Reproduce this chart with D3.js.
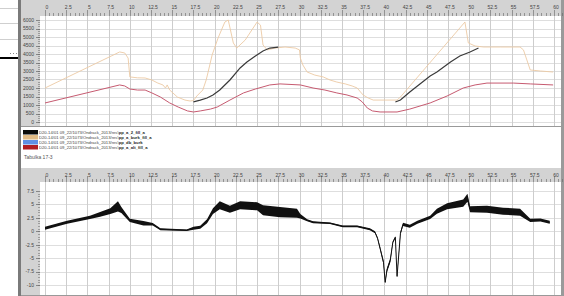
<!DOCTYPE html>
<html>
<head>
<meta charset="utf-8">
<script src="https://cdn.jsdelivr.net/npm/d3@7"></script>
<style>
  html, body { margin: 0; padding: 0; background: #fff; }
  svg { display: block; font-family: "Liberation Sans", "DejaVu Sans", sans-serif; }
</style>
</head>
<body>
<svg id="chart" width="564" height="296"></svg>
<script>
// ── data ──
const xTicks = d3.range(0, 60.1, 2.5);
const topYTicks = d3.range(0, 6001, 500);
const bottomYTicks = [7.5, 5, 2.5, 0, -2.5, -5, -7.5, -10];

// [time, value]
const tanSeries = [
    [0, 2000], [8.8, 4120], [9.4, 4060], [9.8, 3760], [10.0, 2650], [10.9, 2600], [11.8, 2590],
    [12.6, 2470], [13.3, 2290], [13.9, 2180], [14.2, 2000], [14.4, 2180], [14.7, 1880], [15.6, 1470],
    [16.5, 1290], [17.1, 1235], [17.5, 1260], [17.9, 1530], [18.6, 1880], [19.0, 2470], [19.2, 2880],
    [19.7, 3940], [20.4, 4940], [21.2, 5880], [21.6, 6000], [22.2, 4650], [22.6, 4350], [23.6, 4820],
    [25.0, 5880], [25.4, 5700], [25.7, 4530], [26.2, 4240], [27.1, 4350], [28.3, 4410], [29.5, 4350],
    [30.0, 4240], [30.1, 3760], [30.4, 3350], [30.9, 2940], [31.8, 2760], [32.8, 2650], [33.6, 2470],
    [34.4, 2350], [35.4, 2240], [36.2, 2120], [36.8, 2000], [37.2, 1760], [37.5, 1590], [38.1, 1410],
    [38.7, 1290], [40.1, 1290], [41.5, 1290], [41.9, 1470], [49.5, 5880], [49.9, 4650], [50.7, 4470],
    [51.7, 4410], [53.7, 4410], [56.0, 4410], [56.4, 4240], [56.8, 3650], [57.2, 3060], [58.4, 3000],
    [59.9, 2940]
];

const blackSeries = [
    [17.5, 1180], [18.3, 1290], [19.1, 1410], [19.8, 1590], [20.6, 1880], [21.8, 2470], [23.0, 3180],
    [23.8, 3530], [24.8, 3880], [25.7, 4180], [26.5, 4350], [27.5, 4410],
    [34, null],
    [41.3, 1180], [41.9, 1290], [43.0, 1760], [44.2, 2240], [45.4, 2710], [46.2, 2940], [47.8, 3530],
    [48.9, 3880], [50.1, 4120], [51.1, 4350]
];

const redSeries = [
    [0, 1120], [8.8, 2180], [9.4, 2120], [10.0, 1940], [10.9, 1880], [11.8, 1880], [12.6, 1710],
    [13.6, 1470], [14.7, 1120], [15.7, 880], [16.8, 650], [17.5, 590], [18.3, 650], [19.5, 760],
    [20.3, 880], [21.8, 1290], [23.4, 1710], [24.8, 1940], [26.5, 2180], [27.7, 2240], [30.1, 2180],
    [31.6, 2000], [33.0, 1880], [34.4, 1710], [35.6, 1590], [36.8, 1410], [37.4, 1180], [38.0, 820],
    [38.6, 650], [39.5, 590], [41.5, 590], [43.0, 760], [45.4, 1120], [47.4, 1530], [49.3, 2000],
    [50.7, 2180], [52.1, 2290], [55.2, 2290], [57.2, 2240], [59.9, 2180]
];

// lower chart: [time, low, high] envelope of the noisy signal
const signalSeries = [
    [0, 0.3, 0.85], [2.6, 1.4, 1.95], [5.3, 2.3, 2.9], [6.5, 2.7, 3.6], [7.7, 3.2, 4.3], [8.6, 3.7, 5.6],
    [9.0, 3.4, 4.5], [10.0, 1.75, 2.35], [11.6, 1.1, 1.9], [12.7, 1.1, 1.55], [13.6, 0.2, 0.55],
    [16.7, 0.05, 0.35], [17.5, 0.3, 0.85], [18.3, 0.45, 1.05], [19.1, 1.5, 2.25], [19.8, 3.2, 4.3],
    [20.6, 4.1, 5.6], [21.8, 3.45, 4.75], [23.0, 4.1, 5.6], [25.0, 3.9, 5.4], [25.7, 3.0, 4.85],
    [27.7, 2.6, 4.5], [29.7, 2.5, 4.2], [30.1, 2.4, 3.2], [30.9, 1.85, 2.25], [31.6, 1.5, 1.87],
    [33.6, 1.35, 1.65], [35.1, 0.75, 1.1], [36.8, 0.75, 1.1], [38.3, 0.2, 0.55], [38.9, -0.37, 0],
    [39.2, -1.5, -1.1], [39.5, -3.45, -2.9], [39.9, -6.15, -5.4], [40.1, -9.7, -9.3], [40.3, -7.65, -6.9],
    [40.7, -5.8, -5.0], [41.0, -2.25, -1.85], [41.3, -1.3, -0.93], [41.5, -8.6, -8.2], [41.9, -0.65, -0.1],
    [42.2, 1.0, 1.6], [43.0, 0.65, 1.2], [43.9, 1.4, 1.95], [45.4, 2.3, 2.9], [46.2, 3.25, 4.2],
    [47.4, 4.1, 5.2], [49.3, 4.55, 5.9], [49.8, 5.5, 7.0], [50.1, 3.55, 4.65], [52.1, 3.45, 4.75],
    [54.0, 3.1, 4.4], [56.0, 2.9, 4.2], [57.2, 1.75, 2.35], [58.4, 1.8, 2.4], [59.5, 1.4, 1.95]
];

const legendItems = [
    { color: "#0a0a0a", path: "D20-14/01 09_22/1073/Ondrack_2013/res\\", name: "pp_a_2_fill_a" },
    { color: "#e2bb86", path: "D20-14/01 09_22/1073/Ondrack_2013/res\\", name: "pp_a_burk_fill_a" },
    { color: "#5f8fe3", path: "D20-14/01 09_22/1073/Ondrack_2013/res\\", name: "pp_db_burk" },
    { color: "#b01e22", path: "D20-14/01 09_22/1073/Ondrack_2013/res\\", name: "pp_a_alt_fill_a" }
];
const tableLabel = "Tabulka 17-3";

// ── layout ──
const svg = d3.select("#chart");
const panelLeft = 21, plotLeft = 40, plotRight = 561;
const x = d3.scaleLinear().domain([0, 60]).range([45, 554]);
const fmt = d => String(d);

// stray window on the left
[8, 23, 39].forEach(yy => svg.append("line")
    .attr("x1", 0).attr("x2", 18).attr("y1", yy + 0.5).attr("y2", yy + 0.5)
    .attr("stroke", "#cfcfcf"));
svg.append("line").attr("x1", 10).attr("x2", 17).attr("y1", 53.5).attr("y2", 53.5)
    .attr("stroke", "#888").attr("stroke-dasharray", "1,2");
svg.append("rect").attr("x", 0).attr("y", 57).attr("width", 18).attr("height", 2).attr("fill", "#000");
svg.append("rect").attr("x", 18).attr("y", 0).attr("width", 3).attr("height", 296).attr("fill", "#7a7a7a");
svg.append("rect").attr("x", 561).attr("y", 0).attr("width", 3).attr("height", 296).attr("fill", "#9a9a9a");

function drawPanel(top, headH, bottom, y, yTicks, yMinorStep) {
    const plotTop = top + headH;
    const g = svg.append("g");

    g.append("rect").attr("x", panelLeft).attr("y", top)
        .attr("width", plotRight - panelLeft).attr("height", bottom - top).attr("fill", "#d3d3d3");
    g.append("rect").attr("x", plotLeft).attr("y", plotTop)
        .attr("width", plotRight - plotLeft).attr("height", bottom - plotTop).attr("fill", "#fff");

    // grid
    g.selectAll(".hg").data(yTicks).join("line")
        .attr("x1", plotLeft).attr("x2", plotRight)
        .attr("y1", d => Math.round(y(d)) + 0.5).attr("y2", d => Math.round(y(d)) + 0.5)
        .attr("stroke", "#dedede");
    g.selectAll(".vg").data(xTicks).join("line")
        .attr("x1", d => Math.round(x(d)) + 0.5).attr("x2", d => Math.round(x(d)) + 0.5)
        .attr("y1", plotTop).attr("y2", bottom)
        .attr("stroke", "#cdcdcd");

    // top axis
    const minorX = d3.range(0, 61.1, 0.5);
    g.selectAll(".mx").data(minorX).join("line")
        .attr("x1", d => Math.round(x(d)) + 0.5).attr("x2", d => Math.round(x(d)) + 0.5)
        .attr("y1", d => (d % 2.5 === 0) ? plotTop - 6 : plotTop - 3).attr("y2", plotTop)
        .attr("stroke", "#666").attr("stroke-width", 0.6);
    g.selectAll(".lx").data(xTicks).join("text")
        .attr("x", d => x(d) + 2).attr("y", top + 8.5)
        .attr("text-anchor", "middle").attr("font-size", 5).attr("fill", "#444")
        .text(fmt);

    // left axis
    const yd = y.domain();
    const minorY = d3.range(Math.ceil(Math.min(...yd) / yMinorStep) * yMinorStep, Math.max(...yd), yMinorStep);
    g.selectAll(".my").data(minorY).join("line")
        .attr("x1", plotLeft - 2).attr("x2", plotLeft)
        .attr("y1", d => Math.round(y(d)) + 0.5).attr("y2", d => Math.round(y(d)) + 0.5)
        .attr("stroke", "#777").attr("stroke-width", 0.6);
    g.selectAll(".ty").data(yTicks).join("line")
        .attr("x1", plotLeft - 4).attr("x2", plotLeft)
        .attr("y1", d => Math.round(y(d)) + 0.5).attr("y2", d => Math.round(y(d)) + 0.5)
        .attr("stroke", "#666").attr("stroke-width", 0.7);
    g.selectAll(".ly").data(yTicks).join("text")
        .attr("x", plotLeft - 6).attr("y", d => y(d) + 1.8)
        .attr("text-anchor", "end").attr("font-size", 5).attr("fill", "#444")
        .text(fmt);

    g.append("line").attr("x1", panelLeft).attr("x2", plotRight)
        .attr("y1", bottom - 0.5).attr("y2", bottom - 0.5).attr("stroke", "#999");
    return g;
}

// ── upper chart ──
const yTop = d3.scaleLinear().domain([0, 6000]).range([122, 20]);
drawPanel(0, 16, 127, yTop, topYTicks, 125);

const topClip = svg.append("clipPath").attr("id", "clipTop");
topClip.append("rect").attr("x", plotLeft).attr("y", 16).attr("width", plotRight - plotLeft).attr("height", 111);

const lineTop = d3.line()
    .defined(d => d[1] !== null)
    .x(d => x(d[0])).y(d => yTop(d[1]));

const upper = svg.append("g").attr("clip-path", "url(#clipTop)");
upper.append("path").datum(tanSeries).attr("d", lineTop)
    .attr("fill", "none").attr("stroke", "#ecc9a4").attr("stroke-width", 0.9);
upper.append("path").datum(redSeries).attr("d", lineTop)
    .attr("fill", "none").attr("stroke", "#c65a70").attr("stroke-width", 1);
upper.append("path").datum(blackSeries).attr("d", lineTop)
    .attr("fill", "none").attr("stroke", "#3a3a3a").attr("stroke-width", 1.2);

// ── legend ──
const legend = svg.append("g").attr("transform", "translate(23,130)");
const li = legend.selectAll("g").data(legendItems).join("g")
    .attr("transform", (d, i) => `translate(0,${i * 5})`);
li.append("rect").attr("width", 15).attr("height", 4.5).attr("fill", d => d.color);
const lt = li.append("text").attr("x", 16).attr("y", 4).attr("font-size", 4.2).attr("fill", "#444");
lt.append("tspan").text(d => d.path);
lt.append("tspan").attr("font-weight", "bold").attr("fill", "#222").text(d => d.name);
svg.append("text").attr("x", 24).attr("y", 159).attr("font-size", 5).attr("fill", "#555").text(tableLabel);

// ── lower chart ──
const yBot = d3.scaleLinear().domain([-10, 7.5]).range([285, 191]);
drawPanel(168, 14, 296, yBot, bottomYTicks, 0.5);

const area = d3.area()
    .x(d => x(d[0])).y0(d => yBot(d[1])).y1(d => yBot(d[2]));
const mid = d3.line()
    .x(d => x(d[0])).y(d => yBot((d[1] + d[2]) / 2));
svg.append("path").datum(signalSeries).attr("d", area).attr("fill", "#111");
svg.append("path").datum(signalSeries).attr("d", mid)
    .attr("fill", "none").attr("stroke", "#111").attr("stroke-width", 1);
</script>
</body>
</html>
